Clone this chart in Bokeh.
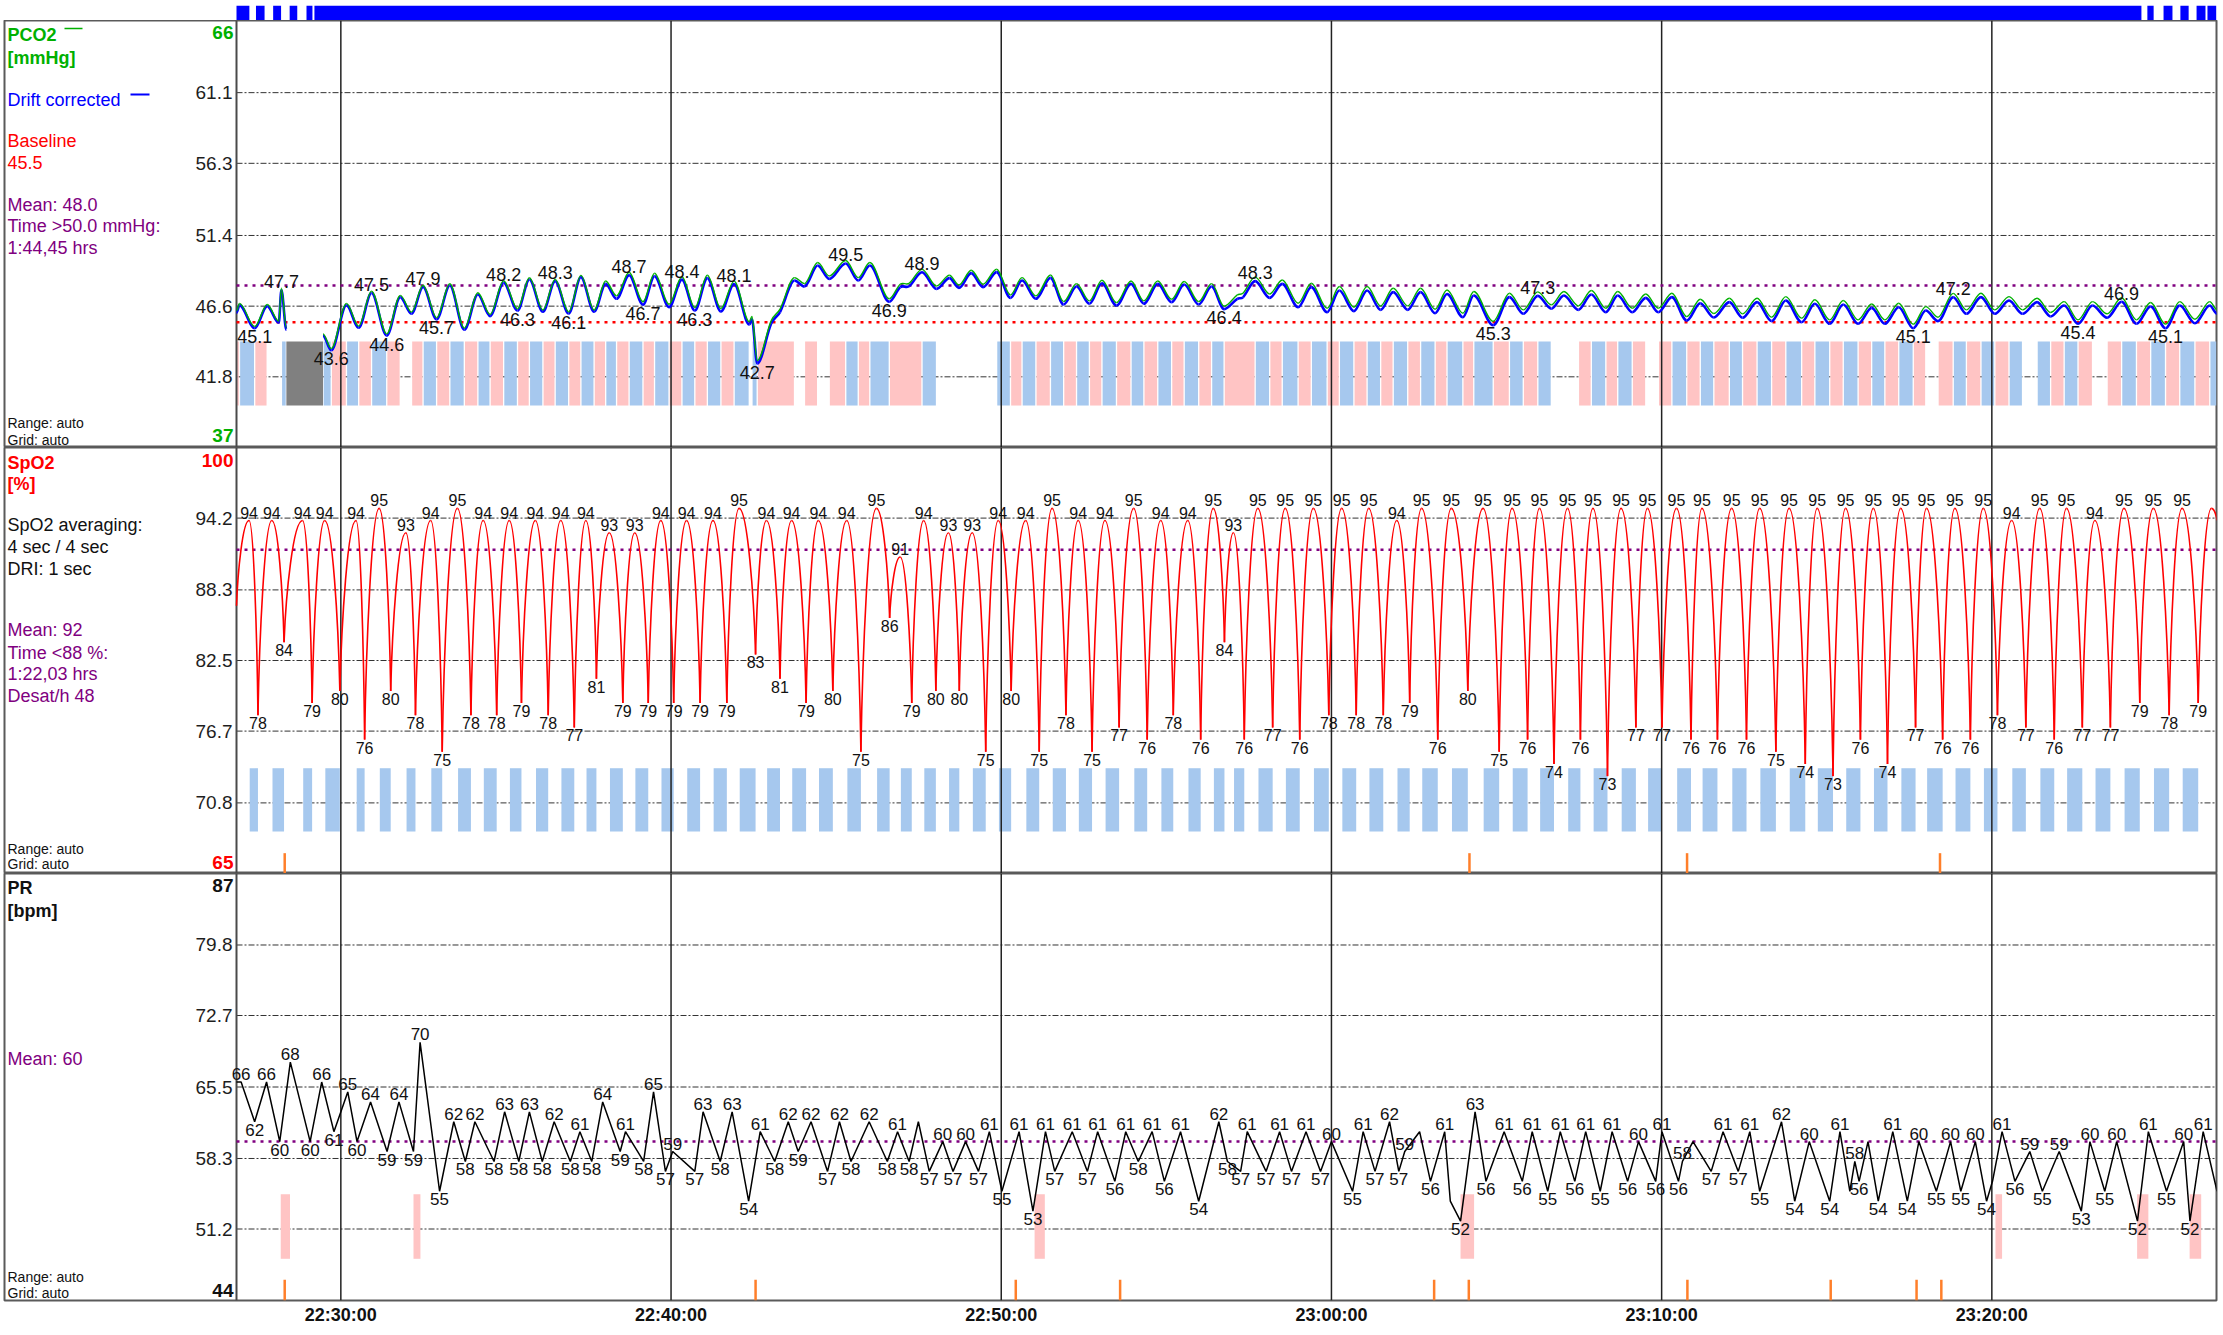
import math
from bokeh.plotting import figure
from bokeh.layouts import column
from bokeh.models import Range1d, FixedTicker, LinearAxis
from bokeh.core.properties import value
from bokeh.embed import file_html
from bokeh.resources import INLINE

NaN = float("nan")

# ---------------- data (time = minutes after 22:00:00) ----------------
time_ticks = [30, 40, 50, 60, 70, 80]
time_labels = ["22:30:00", "22:40:00", "22:50:00", "23:00:00", "23:10:00", "23:20:00"]

pco2_ticks = [41.8, 46.6, 51.4, 56.3, 61.1]
spo2_ticks = [70.8, 76.7, 82.5, 88.3, 94.2]
pr_ticks = [51.2, 58.3, 65.5, 72.7, 79.8]

pco2_range = [37, 66]
spo2_range = [65, 100]
pr_range = [44, 87]

pco2_mean = 48.0
pco2_baseline = 45.5
spo2_mean_line = 91.6
pr_mean = 60.0

# signal quality bar (top)
quality_start = [26.84, 27.43, 27.95, 28.45, 28.96, 29.20, 84.71, 85.20, 85.71, 86.20, 86.53]
quality_end = [27.23, 27.69, 28.19, 28.68, 29.14, 84.53, 84.90, 85.47, 85.96, 86.47, 86.80]

# PCO2 no-data block
pco2_nodata_start = [28.35]
pco2_nodata_end = [29.46]

pco2_time = [
    26.84, 26.93, 27.39, 27.77, 28.12, 28.20, 28.35, 28.90, 29.46, 29.71,
    30.17, 30.54, 30.93, 31.39, 31.80, 32.14, 32.49, 32.90, 33.30, 33.74,
    34.15, 34.52, 34.93, 35.35, 35.71, 36.12, 36.49, 36.90, 37.27, 37.67,
    38.02, 38.35, 38.73, 39.15, 39.50, 39.94, 40.33, 40.72, 41.10, 41.51,
    41.91, 42.37, 42.45, 42.61, 43.03, 43.30, 43.74, 44.04, 44.44, 44.79,
    45.29, 45.67, 46.02, 46.61, 46.94, 47.21, 47.60, 48.04, 48.43, 48.72,
    49.09, 49.45, 49.86, 50.28, 50.63, 51.05, 51.49, 51.89, 52.28, 52.67,
    53.05, 53.49, 53.93, 54.32, 54.74, 55.16, 55.54, 55.98, 56.37, 56.75,
    57.15, 57.32, 57.69, 58.13, 58.51, 58.99, 59.39, 59.87, 60.24, 60.68,
    61.08, 61.49, 61.87, 62.31, 62.70, 63.14, 63.50, 63.98, 64.31, 64.90,
    65.39, 65.81, 66.25, 66.66, 67.04, 67.48, 67.87, 68.31, 68.67, 69.11,
    69.52, 69.90, 70.31, 70.76, 71.17, 71.58, 72.05, 72.45, 72.89, 73.33,
    73.76, 74.24, 74.64, 75.09, 75.50, 75.95, 76.36, 76.76, 77.18, 77.62,
    78.00, 78.37, 78.83, 79.23, 79.67, 80.09, 80.52, 80.93, 81.37, 81.78,
    82.19, 82.61, 83.05, 83.49, 83.93, 84.38, 84.81, 85.26, 85.69, 86.15,
    86.60, 86.82]

pco2_drift_corrected = [
    46.15, 46.67, 45.10, 46.60, 45.47, 47.70, 45.00, NaN, 44.60, 43.60,
    46.67, 45.13, 47.50, 44.60, 47.21, 46.08, 47.90, 45.70, 48.00, 45.00,
    47.39, 45.92, 48.20, 46.30, 48.41, 46.22, 48.30, 46.10, 48.57, 46.22,
    48.11, 47.10, 48.70, 46.70, 48.63, 46.53, 48.40, 46.30, 48.50, 46.24,
    48.10, 45.35, 45.70, 42.70, 45.40, 46.20, 48.34, 47.93, 49.36, 48.45,
    49.50, 48.34, 49.36, 46.90, 47.89, 47.95, 48.90, 47.77, 48.50, 47.84,
    48.84, 47.89, 48.91, 47.16, 48.34, 47.10, 48.52, 46.71, 47.93, 46.76,
    48.16, 46.64, 48.11, 46.76, 48.11, 46.87, 48.07, 46.71, 47.93, 46.40,
    47.10, 47.20, 48.30, 47.16, 48.11, 46.53, 47.89, 46.19, 47.66, 46.26,
    47.66, 46.35, 47.55, 46.35, 47.55, 46.12, 47.43, 45.85, 47.32, 45.30,
    47.21, 46.08, 47.30, 46.42, 47.32, 46.35, 47.39, 46.19, 47.32, 46.19,
    47.16, 46.19, 47.21, 45.62, 46.80, 45.83, 46.87, 45.81, 46.87, 45.58,
    46.98, 45.51, 46.76, 45.40, 46.71, 45.40, 46.48, 45.40, 46.53, 45.10,
    46.30, 45.58, 47.20, 46.08, 47.21, 46.08, 46.98, 46.08, 46.87, 45.90,
    46.64, 45.40, 46.64, 45.81, 46.90, 45.40, 46.58, 45.10, 46.64, 45.44,
    46.64, 46.08]

pco2_raw = [
    46.27, 46.79, 45.22, 46.72, 45.59, 47.82, 45.12, NaN, 44.72, 43.72,
    46.79, 45.25, 47.62, 44.72, 47.33, 46.20, 48.02, 45.82, 48.12, 45.12,
    47.51, 46.04, 48.32, 46.42, 48.53, 46.34, 48.42, 46.22, 48.69, 46.34,
    48.31, 47.30, 48.90, 46.90, 48.83, 46.73, 48.60, 46.50, 48.70, 46.44,
    48.30, 45.55, 45.90, 42.90, 45.60, 46.40, 48.54, 48.13, 49.56, 48.65,
    49.70, 48.54, 49.56, 47.10, 48.09, 48.15, 49.10, 47.97, 48.70, 48.04,
    49.04, 48.09, 49.11, 47.36, 48.54, 47.30, 48.72, 46.91, 48.13, 46.96,
    48.36, 46.84, 48.31, 46.96, 48.31, 47.07, 48.27, 46.91, 48.13, 46.60,
    47.37, 47.47, 48.57, 47.43, 48.38, 46.80, 48.16, 46.46, 47.93, 46.53,
    47.93, 46.62, 47.82, 46.62, 47.82, 46.39, 47.70, 46.12, 47.59, 45.57,
    47.48, 46.35, 47.57, 46.69, 47.59, 46.62, 47.66, 46.46, 47.59, 46.46,
    47.43, 46.46, 47.48, 45.89, 47.07, 46.10, 47.14, 46.08, 47.14, 45.85,
    47.25, 45.78, 47.03, 45.67, 46.98, 45.67, 46.75, 45.67, 46.80, 45.37,
    46.57, 45.85, 47.47, 46.35, 47.48, 46.35, 47.25, 46.35, 47.14, 46.17,
    46.91, 45.67, 46.91, 46.08, 47.17, 45.67, 46.85, 45.37, 46.91, 45.71,
    46.91, 46.35]

# 1 = rising/falling marker bar shown for the segment that starts at this point
pco2_bar_flag = [
    1, 1, 1, 0, 0, 1, 0, 0, 1, 1,
    1, 1, 1, 1, 0, 1, 1, 1, 1, 1,
    1, 1, 1, 1, 1, 1, 1, 1, 1, 1,
    1, 1, 1, 1, 1, 1, 1, 1, 1, 1,
    1, 0, 1, 1, 1, 1, 0, 1, 0, 1,
    1, 1, 1, 1, 1, 1, 1, 0, 0, 0,
    0, 0, 1, 1, 1, 1, 1, 1, 1, 1,
    1, 1, 1, 1, 1, 1, 1, 1, 1, 1,
    1, 1, 1, 1, 1, 1, 1, 1, 1, 1,
    1, 1, 1, 1, 1, 1, 1, 1, 1, 1,
    1, 1, 1, 0, 0, 1, 1, 1, 1, 1,
    0, 1, 1, 1, 1, 1, 1, 1, 1, 1,
    1, 1, 1, 1, 1, 1, 1, 1, 1, 1,
    0, 1, 1, 1, 1, 1, 1, 0, 1, 1,
    1, 1, 0, 1, 1, 1, 1, 1, 1, 1,
    1, 0]

pco2_label_flag = [
    0, 0, 1, 0, 0, 1, 0, 0, 0, 1,
    0, 0, 1, 1, 0, 0, 1, 1, 0, 0,
    0, 0, 1, 1, 0, 0, 1, 1, 0, 0,
    0, 0, 1, 1, 0, 0, 1, 1, 0, 0,
    1, 0, 0, 1, 0, 0, 0, 0, 0, 0,
    1, 0, 0, 1, 0, 0, 1, 0, 0, 0,
    0, 0, 0, 0, 0, 0, 0, 0, 0, 0,
    0, 0, 0, 0, 0, 0, 0, 0, 0, 1,
    0, 0, 1, 0, 0, 0, 0, 0, 0, 0,
    0, 0, 0, 0, 0, 0, 0, 0, 0, 1,
    0, 0, 1, 0, 0, 0, 0, 0, 0, 0,
    0, 0, 0, 0, 0, 0, 0, 0, 0, 0,
    0, 0, 0, 0, 0, 0, 0, 0, 0, 1,
    0, 0, 1, 0, 0, 0, 0, 0, 0, 0,
    0, 1, 0, 0, 1, 0, 0, 1, 0, 0,
    0, 0]

spo2_time = [
    26.84,
    27.22, 27.49, 27.91, 28.28, 28.84, 29.13, 29.51, 29.97, 30.46, 30.72,
    31.16, 31.51, 31.97, 32.26, 32.72, 33.07, 33.53, 33.94, 34.31, 34.72,
    35.10, 35.47, 35.89, 36.28, 36.66, 37.07, 37.42, 37.74, 38.13, 38.54,
    38.90, 39.31, 39.69, 40.08, 40.47, 40.88, 41.27, 41.69, 42.06, 42.56,
    42.89, 43.30, 43.65, 44.09, 44.46, 44.90, 45.32, 45.75, 46.22, 46.62,
    46.94, 47.29, 47.65, 48.02, 48.40, 48.73, 49.12, 49.53, 49.91, 50.30,
    50.74, 51.15, 51.54, 51.96, 52.33, 52.75, 53.14, 53.57, 54.01, 54.42,
    54.83, 55.21, 55.65, 56.04, 56.42, 56.76, 57.03, 57.36, 57.77, 58.22,
    58.60, 59.04, 59.45, 59.92, 60.31, 60.75, 61.13, 61.57, 61.98, 62.37,
    62.73, 63.22, 63.63, 64.13, 64.59, 65.08, 65.47, 65.94, 66.30, 66.74,
    67.15, 67.54, 67.92, 68.36, 68.77, 69.22, 69.57, 70.01, 70.45, 70.89,
    71.22, 71.69, 72.12, 72.57, 72.97, 73.46, 73.86, 74.35, 74.71, 75.19,
    75.57, 76.02, 76.41, 76.84, 77.24, 77.69, 78.02, 78.51, 78.88, 79.35,
    79.74, 80.17, 80.60, 81.03, 81.45, 81.89, 82.26, 82.74, 83.12, 83.59,
    84.00, 84.48, 84.89, 85.37, 85.76, 86.25, 86.65,
    86.82]

spo2_value = [
    87,
    94, 78, 94, 84, 94, 79, 94, 80, 94, 76,
    95, 80, 93, 78, 94, 75, 95, 78, 94, 78,
    94, 79, 94, 78, 94, 77, 94, 81, 93, 79,
    93, 79, 94, 79, 94, 79, 94, 79, 95, 83,
    94, 81, 94, 79, 94, 80, 94, 75, 95, 86,
    91, 79, 94, 80, 93, 80, 93, 75, 94, 80,
    94, 75, 95, 78, 94, 75, 94, 77, 95, 76,
    94, 78, 94, 76, 95, 84, 93, 76, 95, 77,
    95, 76, 95, 78, 95, 78, 95, 78, 94, 79,
    95, 76, 95, 80, 95, 75, 95, 76, 95, 74,
    95, 76, 95, 73, 95, 77, 95, 77, 95, 76,
    95, 76, 95, 76, 95, 75, 95, 74, 95, 73,
    95, 76, 95, 74, 95, 77, 95, 76, 95, 76,
    95, 78, 94, 77, 95, 76, 95, 77, 94, 77,
    95, 79, 95, 78, 95, 79, 95,
    94]

spo2_event_time = [28.30, 64.18, 70.77, 78.43]

pr_time = [
    26.84, 26.98, 27.39, 27.75, 28.15, 28.47, 29.07, 29.42, 29.79, 30.21,
    30.49, 30.90, 31.40, 31.76, 32.20, 32.40, 32.99, 33.42, 33.77, 34.06,
    34.64, 34.96, 35.39, 35.71, 36.10, 36.46, 36.95, 37.24, 37.60, 37.93,
    38.46, 38.62, 39.17, 39.47, 39.83, 40.05, 40.72, 40.97, 41.49, 41.85,
    42.35, 42.70, 43.14, 43.55, 43.85, 44.24, 44.74, 45.10, 45.45, 46.00,
    46.55, 46.86, 47.21, 47.49, 47.82, 48.23, 48.54, 48.92, 49.31, 49.64,
    50.02, 50.54, 50.96, 51.34, 51.62, 52.15, 52.61, 52.92, 53.44, 53.77,
    54.15, 54.57, 54.94, 55.43, 55.98, 56.59, 56.85, 57.25, 57.45, 58.02,
    58.43, 58.79, 59.23, 59.67, 60.00, 60.64, 60.96, 61.32, 61.76, 62.04,
    62.22, 62.67, 63.00, 63.43, 63.60, 63.91, 64.35, 64.68, 65.23, 65.78,
    66.08, 66.55, 66.93, 67.37, 67.70, 68.14, 68.50, 68.97, 69.30, 69.82,
    70.01, 70.51, 70.63, 70.95, 71.50, 71.86, 72.32, 72.67, 72.97, 73.63,
    74.03, 74.47, 75.09, 75.40, 75.70, 75.85, 75.98, 76.25, 76.56, 77.00,
    77.44, 77.79, 78.32, 78.75, 79.06, 79.50, 79.84, 80.02, 80.31, 80.70,
    81.15, 81.53, 82.04, 82.71, 82.97, 83.42, 83.78, 84.41, 84.74, 85.29,
    85.81, 86.00, 86.40, 86.82]

pr_value = [
    66, 66, 62, 66, 60, 68, 60, 66, 61, 65,
    60, 64, 59, 64, 59, 70, 55, 62, 58, 62,
    58, 63, 58, 63, 58, 62, 58, 61, 58, 64,
    59, 61, 58, 65, 57, 59, 57, 63, 58, 63,
    54, 61, 58, 62, 59, 62, 57, 62, 58, 62,
    58, 61, 58, 62, 57, 60, 57, 60, 57, 61,
    55, 61, 53, 61, 57, 61, 57, 61, 56, 61,
    58, 61, 56, 61, 54, 62, 58, 57, 61, 57,
    61, 57, 61, 57, 60, 55, 61, 57, 62, 57,
    59, 61, 56, 61, 54, 52, 63, 56, 61, 56,
    61, 55, 61, 56, 61, 55, 61, 56, 60, 56,
    61, 56, 58, 60, 57, 61, 57, 61, 55, 62,
    54, 60, 54, 61, 55, 58, 56, 60, 54, 61,
    54, 60, 55, 60, 55, 60, 54, 56, 61, 56,
    59, 55, 59, 53, 60, 55, 60, 52, 61, 55,
    60, 52, 61, 55]

pr_label_flag = [
    0, 1, 1, 1, 1, 1, 1, 1, 1, 1,
    1, 1, 1, 1, 1, 1, 1, 1, 1, 1,
    1, 1, 1, 1, 1, 1, 1, 1, 1, 1,
    1, 1, 1, 1, 1, 1, 1, 1, 1, 1,
    1, 1, 1, 1, 1, 1, 1, 1, 1, 1,
    1, 1, 1, 0, 1, 1, 1, 1, 1, 1,
    1, 1, 1, 1, 1, 1, 1, 1, 1, 1,
    1, 1, 1, 1, 1, 1, 1, 1, 1, 1,
    1, 1, 1, 1, 1, 1, 1, 1, 1, 1,
    1, 0, 1, 1, 0, 1, 1, 1, 1, 1,
    1, 1, 1, 1, 1, 1, 1, 1, 1, 1,
    1, 1, 1, 0, 1, 1, 1, 1, 1, 1,
    1, 1, 1, 1, 0, 1, 1, 0, 1, 1,
    1, 1, 1, 1, 1, 1, 1, 0, 1, 1,
    1, 1, 1, 1, 1, 1, 1, 1, 1, 1,
    1, 1, 1, 0]

pr_drop_start = [28.18, 32.20, 51.01, 63.91, 80.11, 84.40, 85.99]
pr_drop_end = [28.46, 32.41, 51.32, 64.32, 80.31, 84.74, 86.34]
pr_event_time = [28.30, 42.56, 50.44, 53.60, 63.11, 64.16, 70.78, 75.12, 77.72, 78.47]

assert len(pco2_time) == len(pco2_drift_corrected) == len(pco2_raw) == len(pco2_bar_flag) == len(pco2_label_flag)
assert len(spo2_time) == len(spo2_value)
assert len(pr_time) == len(pr_value) == len(pr_label_flag)

# ---------------- layout constants ----------------
FONT = "Liberation Sans"
PX_PER_MIN = 33.02
PLOT_START = 26.84
LEFT_EDGE = 4          # page x of the panel box
PLOT_LEFT = 236        # page x where the time axis starts
FRAME_W = 2212         # page 4 .. 2216
FIG_W = FRAME_W + LEFT_EDGE + 5
X0 = PLOT_START - (PLOT_LEFT - LEFT_EDGE) / PX_PER_MIN
X1 = X0 + FRAME_W / PX_PER_MIN
PLOT_END = X1

GREEN = "#00B000"
BLUE = "#0000FF"
RED = "#FF0000"
PURPLE = "#800080"
PINK_BAR = "#FFC4C4"
BLUE_BAR = "#A6C8EE"
ORANGE = "#FF7F2A"
GRID_DASH = "6 2 2 2"

xr = Range1d(X0, X1)


def px(page_x):
    return X0 + (page_x - LEFT_EDGE) / PX_PER_MIN


def page_to_y(page_y, top, height, lo, hi):
    return hi - (page_y - top) / height * (hi - lo)


def panel(lo, hi, height, bottom=0):
    p = figure(width=FIG_W, height=height, x_range=xr, y_range=Range1d(lo, hi),
               x_axis_location=None, y_axis_location=None,
               output_backend="svg", toolbar_location=None,
               min_border=0, min_border_left=LEFT_EDGE, min_border_right=5,
               min_border_top=0, min_border_bottom=bottom)
    p.grid.visible = False
    p.outline_line_color = "#5a5a5a"
    p.outline_line_width = 2
    p.background_fill_color = "white"
    p.border_fill_color = "white"
    return p


def add_yaxis(p, ticks):
    ax = LinearAxis(ticker=FixedTicker(ticks=ticks), fixed_location=PLOT_START)
    ax.axis_line_color = None
    ax.major_tick_line_color = None
    ax.minor_tick_line_color = None
    ax.major_tick_in = 0
    ax.major_tick_out = 0
    ax.major_label_standoff = 4
    ax.major_label_text_font = FONT
    ax.major_label_text_font_size = "19px"
    ax.major_label_text_color = "#1e1e1e"
    p.add_layout(ax, "left")


def grid_lines(p, ticks):
    p.segment(x0=PLOT_START, x1=PLOT_END, y0=ticks, y1=ticks,
              line_color="#333333", line_width=1, line_dash=GRID_DASH)


def time_lines(p, lo, hi):
    p.segment(x0=time_ticks, x1=time_ticks, y0=lo, y1=hi, line_color="#222222", line_width=1.5)
    p.segment(x0=[PLOT_START], x1=[PLOT_START], y0=lo, y1=hi, line_color="#4a4a4a", line_width=2)


def range_labels(p, lo, hi, color, off_top, off_bottom):
    for val, off in ((hi, off_top), (lo, off_bottom)):
        p.text(x=[PLOT_START], y=[val], text=[f"{val:g}"], x_offset=-3, y_offset=off,
               text_font=value(FONT), text_font_size="19px", text_font_style="bold",
               text_color=color, text_align="right", text_baseline="middle")


def left_text(p, texts, ys, color, size="18px", bold=False):
    p.text(x=[px(7)] * len(texts), y=ys, text=texts, text_font=value(FONT),
           text_font_size=size, text_font_style="bold" if bold else "normal",
           text_color=color, text_align="left", text_baseline="middle")


def value_labels(p, t, v, flags, fmt, size):
    ux, uy, ut, dx, dy, dt = [], [], [], [], [], []
    n = len(t)
    for i in range(n):
        if not flags[i] or math.isnan(v[i]):
            continue
        prev = v[i - 1] if i > 0 and not math.isnan(v[i - 1]) else None
        nxt = v[i + 1] if i < n - 1 and not math.isnan(v[i + 1]) else None
        nb = [a for a in (prev, nxt) if a is not None]
        ref = sum(nb) / len(nb) if nb else v[i]
        if v[i] >= ref:
            ux.append(t[i]); uy.append(v[i]); ut.append(fmt.format(v[i]))
        else:
            dx.append(t[i]); dy.append(v[i]); dt.append(fmt.format(v[i]))
    common = dict(text_font=value(FONT), text_font_size=size, text_color="#111111", text_align="center")
    p.text(x=ux, y=uy, text=ut, text_baseline="bottom", y_offset=-2, **common)
    p.text(x=dx, y=dy, text=dt, text_baseline="top", y_offset=2, **common)


def direction_bars(t, v, flags):
    out = []
    for i in range(len(t) - 1):
        a, b = v[i], v[i + 1]
        if not flags[i] or math.isnan(a) or math.isnan(b):
            continue
        up = b > a
        if out and out[-1][2] == up and abs(out[-1][1] - t[i]) < 1e-9:
            out[-1][1] = t[i + 1]
        else:
            out.append([t[i], t[i + 1], up])
    return out


def smooth_curve(p, t, v, color, width):
    """Cubic Bezier segments between readings; flat tangent at extrema."""
    n = len(t)
    slope = []
    for i in range(n):
        ok_p = i > 0 and not math.isnan(v[i - 1]) and not math.isnan(v[i])
        ok_n = i < n - 1 and not math.isnan(v[i + 1]) and not math.isnan(v[i])
        if ok_p and ok_n and (v[i] - v[i - 1]) * (v[i + 1] - v[i]) > 0:
            slope.append((v[i + 1] - v[i - 1]) / (t[i + 1] - t[i - 1]))
        else:
            slope.append(0.0)
    seg = {k: [] for k in ("x0", "y0", "x1", "y1", "cx0", "cy0", "cx1", "cy1")}
    for i in range(n - 1):
        if math.isnan(v[i]) or math.isnan(v[i + 1]):
            continue
        d = (t[i + 1] - t[i]) / 3.0
        seg["x0"].append(t[i]); seg["y0"].append(v[i])
        seg["x1"].append(t[i + 1]); seg["y1"].append(v[i + 1])
        seg["cx0"].append(t[i] + d); seg["cy0"].append(v[i] + slope[i] * d)
        seg["cx1"].append(t[i + 1] - d); seg["cy1"].append(v[i + 1] - slope[i + 1] * d)
    p.bezier(line_color=color, line_width=width, **seg)


def desat_curve(p, t, v, color, width):
    """Rounded tops, sharp bottoms between SpO2 readings."""
    seg = {k: [] for k in ("x0", "y0", "x1", "y1", "cx0", "cy0", "cx1", "cy1")}
    for i in range(len(t) - 1):
        t0, v0, t1, v1 = t[i], v[i], t[i + 1], v[i + 1]
        dt = t1 - t0
        if v1 < v0:
            c0 = (t0 + 0.5 * dt, v0)
            c1 = (t1 - 0.1 * dt, v1 + 0.4 * (v0 - v1))
        else:
            c0 = (t0 + 0.1 * dt, v0 + 0.4 * (v1 - v0))
            c1 = (t1 - 0.5 * dt, v1)
        seg["x0"].append(t0); seg["y0"].append(v0)
        seg["x1"].append(t1); seg["y1"].append(v1)
        seg["cx0"].append(c0[0]); seg["cy0"].append(c0[1])
        seg["cx1"].append(c1[0]); seg["cy1"].append(c1[1])
    p.bezier(line_color=color, line_width=width, **seg)


# ---------------- top quality bar ----------------
bar_fig = figure(width=FIG_W, height=20, x_range=xr, y_range=Range1d(0, 1),
                 x_axis_location=None, y_axis_location=None,
                 output_backend="svg", toolbar_location=None,
                 min_border=0, min_border_left=LEFT_EDGE, min_border_right=5,
                 min_border_top=5, min_border_bottom=0)
bar_fig.grid.visible = False
bar_fig.outline_line_color = None
bar_fig.border_fill_color = "white"
bar_fig.quad(left=quality_start, right=quality_end, bottom=0, top=1, fill_color=BLUE, line_color=None)

# ---------------- PCO2 ----------------
lo, hi = pco2_range
p1 = panel(lo, hi, 427)
add_yaxis(p1, pco2_ticks)
grid_lines(p1, pco2_ticks)
bars = direction_bars(pco2_time, pco2_drift_corrected, pco2_bar_flag)
p1.quad(left=[b[0] + 0.02 for b in bars], right=[b[1] - 0.02 for b in bars],
        bottom=39.85, top=44.2, fill_color=[PINK_BAR if b[2] else BLUE_BAR for b in bars], line_color=None)
p1.quad(left=pco2_nodata_start, right=pco2_nodata_end, bottom=39.85, top=44.2, fill_color="#808080", line_color=None)
time_lines(p1, lo, hi)
p1.segment(x0=PLOT_START, x1=PLOT_END, y0=[pco2_mean], y1=[pco2_mean], line_color=PURPLE, line_width=2.5, line_dash="3 5")
p1.segment(x0=PLOT_START, x1=PLOT_END, y0=[pco2_baseline], y1=[pco2_baseline], line_color=RED, line_width=2.5, line_dash="3 5")
smooth_curve(p1, pco2_time, pco2_drift_corrected, BLUE, 2.6)
smooth_curve(p1, pco2_time, pco2_raw, GREEN, 1.4)
value_labels(p1, pco2_time, pco2_drift_corrected, pco2_label_flag, "{:.1f}", "18px")
range_labels(p1, lo, hi, GREEN, 12, -12)
Y = lambda py: page_to_y(py, 20, 427, lo, hi)
left_text(p1, ["PCO2", "[mmHg]"], [Y(34), Y(57)], GREEN, bold=True)
left_text(p1, ["Drift corrected"], [Y(99)], BLUE)
left_text(p1, ["Baseline", "45.5"], [Y(140), Y(162)], RED)
left_text(p1, ["Mean: 48.0", "Time >50.0 mmHg:", "1:44,45 hrs"], [Y(204), Y(225), Y(247)], PURPLE)
left_text(p1, ["Range: auto", "Grid: auto"], [Y(422), Y(439)], "#111111", size="14px")
p1.segment(x0=[px(64)], x1=[px(82)], y0=[Y(28)], y1=[Y(28)], line_color=GREEN, line_width=1.5)
p1.segment(x0=[px(130)], x1=[px(149)], y0=[Y(94)], y1=[Y(94)], line_color=BLUE, line_width=2)

# ---------------- SpO2 ----------------
lo, hi = spo2_range
p2 = panel(lo, hi, 426)
add_yaxis(p2, spo2_ticks)
grid_lines(p2, spo2_ticks)
n = len(spo2_time)
troughs = [i for i in range(1, n - 1) if spo2_value[i] < spo2_value[i - 1] and spo2_value[i] < spo2_value[i + 1]]
p2.quad(left=[spo2_time[i - 1] + 0.02 for i in troughs], right=[spo2_time[i] for i in troughs],
        bottom=68.45, top=73.65, fill_color=BLUE_BAR, line_color=None)
time_lines(p2, lo, hi)
p2.segment(x0=PLOT_START, x1=PLOT_END, y0=[spo2_mean_line], y1=[spo2_mean_line], line_color=PURPLE, line_width=2.5, line_dash="3 5")
desat_curve(p2, spo2_time, spo2_value, RED, 1.6)
p2.segment(x0=spo2_event_time, x1=spo2_event_time, y0=65, y1=66.67, line_color=ORANGE, line_width=2.5)
value_labels(p2, spo2_time, spo2_value, [0] + [1] * (n - 3) + [0, 0], "{:.0f}", "16px")
range_labels(p2, lo, hi, RED, 12.5, -11.5)
Y = lambda py: page_to_y(py, 447, 426, lo, hi)
left_text(p2, ["SpO2", "[%]"], [Y(462), Y(483)], RED, bold=True)
left_text(p2, ["SpO2 averaging:", "4 sec / 4 sec", "DRI: 1 sec"], [Y(524), Y(546), Y(568)], "#111111")
left_text(p2, ["Mean: 92", "Time <88 %:", "1:22,03 hrs", "Desat/h 48"], [Y(629), Y(652), Y(673), Y(695)], PURPLE)
left_text(p2, ["Range: auto", "Grid: auto"], [Y(848), Y(863)], "#111111", size="14px")

# ---------------- PR ----------------
lo, hi = pr_range
p3 = panel(lo, hi, 457, bottom=30)
add_yaxis(p3, pr_ticks)
grid_lines(p3, pr_ticks)
p3.quad(left=pr_drop_start, right=pr_drop_end, bottom=48.2, top=54.7, fill_color=PINK_BAR, line_color=None)
time_lines(p3, lo, hi)
p3.segment(x0=PLOT_START, x1=PLOT_END, y0=[pr_mean], y1=[pr_mean], line_color=PURPLE, line_width=2.5, line_dash="3 5")
p3.line(pr_time, pr_value, line_color="#000000", line_width=1.5)
p3.segment(x0=pr_event_time, x1=pr_event_time, y0=44, y1=46.1, line_color=ORANGE, line_width=2.5)
value_labels(p3, pr_time, pr_value, pr_label_flag, "{:.0f}", "17px")
range_labels(p3, lo, hi, "#111111", 12, -10)
Y = lambda py: page_to_y(py, 873, 427, lo, hi)
left_text(p3, ["PR", "[bpm]"], [Y(887), Y(910)], "#111111", bold=True)
left_text(p3, ["Mean: 60"], [Y(1058)], PURPLE)
left_text(p3, ["Range: auto", "Grid: auto"], [Y(1276), Y(1292)], "#111111", size="14px")

xax = LinearAxis(ticker=FixedTicker(ticks=time_ticks),
                 major_label_overrides={t: lab for t, lab in zip(time_ticks, time_labels)})
xax.axis_line_color = None
xax.major_tick_line_color = None
xax.minor_tick_line_color = None
xax.major_tick_in = 0
xax.major_tick_out = 0
xax.major_label_standoff = 4
xax.major_label_text_font = FONT
xax.major_label_text_font_size = "18px"
xax.major_label_text_font_style = "bold"
xax.major_label_text_color = "#111111"
p3.add_layout(xax, "below")

layout = column(bar_fig, p1, p2, p3, spacing=0)
open("out.html", "w").write(file_html(layout, INLINE))
